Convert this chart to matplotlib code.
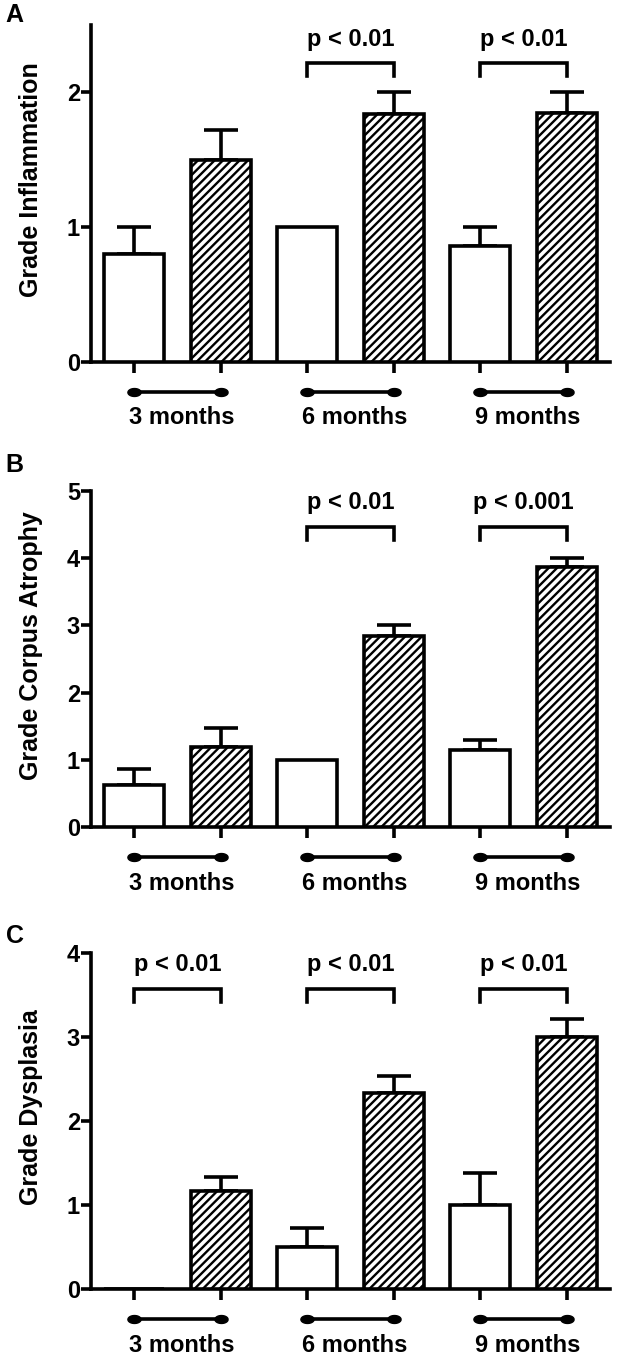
#!/usr/bin/env python3
"""
Grade of inflammation, corpus atrophy and dysplasia at 3, 6 and 9 months
(open bars = control, hatched bars = treated), mean + SEM.
"""

import numpy as np
import matplotlib
matplotlib.use('Agg')
import matplotlib.pyplot as plt
import matplotlib.transforms as mtransforms
from matplotlib.path import Path

plt.rcParams['font.family'] = ['Liberation Sans', 'DejaVu Sans']
plt.rcParams['font.weight'] = 'bold'
plt.rcParams['hatch.linewidth'] = 1.7

# ---- data -------------------------------------------------------------
groups = ['3 months', '6 months', '9 months']

inflammation_mean = [0.80, 1.50, 1.00, 1.84, 0.86, 1.85]
inflammation_sem = [0.20, 0.22, 0.00, 0.16, 0.14, 0.15]

atrophy_mean = [0.62, 1.19, 1.00, 2.84, 1.15, 3.87]
atrophy_sem = [0.24, 0.29, 0.00, 0.16, 0.14, 0.13]

dysplasia_mean = [0.00, 1.17, 0.50, 2.33, 1.00, 3.00]
dysplasia_sem = [0.00, 0.16, 0.23, 0.21, 0.38, 0.21]

# significance brackets: (bar i, bar j, label)
inflammation_sig = [(2, 3, 'p < 0.01'), (4, 5, 'p < 0.01')]
atrophy_sig = [(2, 3, 'p < 0.01'), (4, 5, 'p < 0.001')]
dysplasia_sig = [(0, 1, 'p < 0.01'), (2, 3, 'p < 0.01'), (4, 5, 'p < 0.01')]

LW = 2.6
FS = 17
H = 1359  # figure height in px

# elliptical dot for the group bars under the axis
t = np.linspace(0, 2 * np.pi, 40)
ellipse = Path(np.column_stack([np.cos(t), 0.6 * np.sin(t)]))


def draw_panel(ax, means, sems, sig, ymax, ylabel, letter, letter_y,
               br_top, br_bottom, txt_y):
    x = np.arange(len(means))
    hatches = ['', '////'] * 3
    for xi, m, h in zip(x, means, hatches):
        ax.bar(xi, m, width=0.69, color='white', edgecolor='black',
               linewidth=LW, hatch=h, zorder=3)
    for xi, m, s in zip(x, means, sems):
        if s > 0:
            ax.errorbar(xi, m, yerr=[[0], [s]], fmt='none', ecolor='black',
                        elinewidth=LW, capsize=12, capthick=LW, zorder=2)

    ax.set_xlim(-0.5, 5.5)
    ax.set_ylim(0, ymax)
    ax.set_yticks(np.arange(0, int(ymax) + 1))
    ax.set_xticks(x)
    ax.set_xticklabels([])
    for side in ['top', 'right']:
        ax.spines[side].set_visible(False)
    for side in ['left', 'bottom']:
        ax.spines[side].set_linewidth(LW)
    ax.tick_params(axis='y', length=7, width=LW, labelsize=FS, pad=1)
    ax.tick_params(axis='x', length=8, width=LW)
    ax.set_ylabel(ylabel, fontsize=18, fontweight='bold')
    ax.yaxis.set_label_coords(-0.092, 0.54)

    # group markers below the axis
    fig = ax.figure
    trans_line = ax.get_xaxis_transform() + mtransforms.ScaledTranslation(0, -0.30, fig.dpi_scale_trans)
    trans_text = ax.get_xaxis_transform() + mtransforms.ScaledTranslation(0, -0.56, fig.dpi_scale_trans)
    for g, name in enumerate(groups):
        x0, x1 = 2 * g, 2 * g + 1
        ax.plot([x0, x1], [0, 0], color='black', lw=LW, marker=ellipse,
                markersize=9.5, transform=trans_line, clip_on=False)
        ax.text((x0 + x1) / 2 + 0.05, 0, name, transform=trans_text,
                ha='center', va='center', fontsize=FS, fontweight='bold')

    # significance brackets
    for i, j, lab in sig:
        ax.plot([i, i, j, j], [br_bottom, br_top, br_top, br_bottom],
                color='black', lw=LW, solid_joinstyle='miter', clip_on=False)
        ax.text((i + j) / 2, txt_y, lab, ha='center', va='center',
                fontsize=FS, fontweight='bold')

    fig.text(0.009, 1 - letter_y / H, letter, fontsize=18,
             fontweight='bold', ha='left', va='center')


fig = plt.figure(figsize=(6.17, 13.59), dpi=100)
left, width = 91 / 617, 519 / 617
axA = fig.add_axes([left, 1 - 362 / H, width, 337 / H])
axB = fig.add_axes([left, 1 - 827 / H, width, 336 / H])
axC = fig.add_axes([left, 1 - 1289 / H, width, 336 / H])

draw_panel(axA, inflammation_mean, inflammation_sem, inflammation_sig, 2.5,
           'Grade Inflammation', 'A', 15, 2.22, 2.12, 2.39)
draw_panel(axB, atrophy_mean, atrophy_sem, atrophy_sig, 5,
           'Grade Corpus Atrophy', 'B', 465, 4.46, 4.27, 4.83)
draw_panel(axC, dysplasia_mean, dysplasia_sem, dysplasia_sig, 4,
           'Grade Dysplasia', 'C', 936, 3.57, 3.42, 3.86)

fig.savefig('out.png', dpi=100)
plt.close(fig)
print("Saved out.png")
